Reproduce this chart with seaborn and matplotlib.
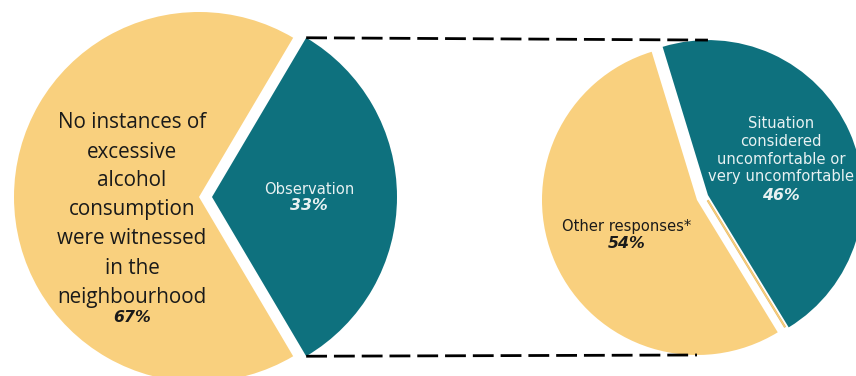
import numpy as np
import matplotlib
matplotlib.use("Agg")
import matplotlib.pyplot as plt
import seaborn as sns

# Overall: did respondents witness excessive alcohol consumption?
main_labels = ["No instances of\nexcessive\nalcohol\nconsumption\nwere witnessed\nin the\nneighbourhood",
               "Observation"]
main_values = [67, 33]

# Breakdown of those who observed it
detail_labels = ["Other responses*",
                 "Situation\nconsidered\nuncomfortable or\nvery uncomfortable"]
detail_values = [54, 46]

YELLOW = "#F9D07E"
TEAL = "#0E717E"

sns.set_theme(style="white")
plt.rcParams["font.family"] = ["DejaVu Sans"]

W, H = 856, 376
fig = plt.figure(figsize=(W / 100, H / 100), dpi=100)
ax = fig.add_axes([0, 0, 1, 1])

# Left pie: the observed share is pulled out to the right
main_start = main_values[1] / sum(main_values) * 360 / 2
wl, _ = ax.pie(main_values, colors=[YELLOW, TEAL], startangle=main_start,
               radius=185, center=(199, 179), explode=[0, 13],
               wedgeprops=dict(linewidth=0), frame=True)

# Right pie: split of the observed share
wr, _ = ax.pie(detail_values, colors=[YELLOW, TEAL], startangle=107,
               radius=155, center=(697, 176), explode=[0, 12],
               wedgeprops=dict(linewidth=0), frame=True)

ax.set_xlim(0, W)
ax.set_ylim(0, H)
ax.set_aspect("equal")
ax.axis("off")


def polar(wedge, ang, frac=1.0):
    cx, cy = wedge.center
    a = np.deg2rad(ang)
    return cx + frac * wedge.r * np.cos(a), cy + frac * wedge.r * np.sin(a)


# Thin sliver along the lower edge of the exploded right wedge
yc = np.array(wr[0].center)
tc = np.array(wr[1].center)
sc = yc + 0.75 * (tc - yc)
a = np.deg2rad(wr[0].theta2)
direction = np.array([np.cos(a), np.sin(a)])
p0 = sc + 0.03 * wr[0].r * direction
p1 = sc + 0.99 * wr[0].r * direction
ax.plot([p0[0], p1[0]], [p0[1], p1[1]], color="#E5B866", lw=1.6,
        solid_capstyle="butt", zorder=3)
ax.plot([p0[0], p1[0]], [p0[1], p1[1]], color=YELLOW, lw=0.8,
        solid_capstyle="butt", zorder=3)

# Dashed connectors from the exploded wedge to the detail pie
teal_l = wl[1]
top_src = polar(teal_l, teal_l.theta2)
bot_src = polar(teal_l, teal_l.theta1)
top_dst = polar(wr[1], 90)
bot_dst = polar(wr[0], 270)
dash = dict(color="black", lw=2.0, linestyle=(0, (7.5, 2.5)), zorder=4)
ax.plot([top_src[0], top_dst[0]], [top_src[1], top_dst[1]], **dash)
ax.plot([bot_src[0], bot_dst[0]], [bot_src[1], bot_dst[1]], **dash)

# Labels
DARK = "#1a1a1a"
LIGHT = "#E8F1F2"
pct = dict(ha="center", va="center", fontsize=11.3, fontweight="bold",
           style="italic", zorder=5)

ax.text(132, H - 210, main_labels[0], ha="center", va="center",
        fontsize=14.9, family="Open Sans", color=DARK, linespacing=1.5,
        zorder=5)
ax.text(132, H - 318, f"{main_values[0]}%", color=DARK, **pct)

ax.text(309, H - 189, main_labels[1], ha="center", va="center",
        fontsize=10.6, color=LIGHT, zorder=5)
ax.text(309, H - 206, f"{main_values[1]}%", color=LIGHT, **pct)

ax.text(627, H - 227, detail_labels[0], ha="center", va="center",
        fontsize=10.6, color=DARK, zorder=5)
ax.text(627, H - 244, f"{detail_values[0]}%", color=DARK, **pct)

ax.text(781, H - 150, detail_labels[1], ha="center", va="center",
        fontsize=10.6, color=LIGHT, linespacing=1.25, zorder=5)
ax.text(781, H - 195, f"{detail_values[1]}%", color=LIGHT, **pct)

fig.savefig("out.png", dpi=100, facecolor="white")
